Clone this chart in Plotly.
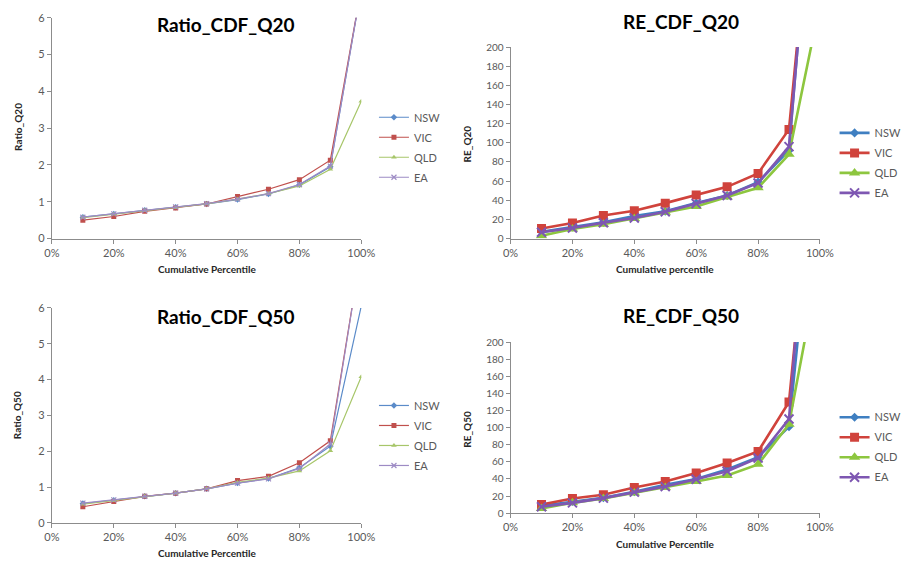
import plotly.graph_objects as go

# ---------------- data ----------------
pct = [0.1, 0.2, 0.3, 0.4, 0.5, 0.6, 0.7, 0.8, 0.9, 1.0]
states = ["NSW", "VIC", "QLD", "EA"]
x_ticks = [0, 0.2, 0.4, 0.6, 0.8, 1.0]

ratio_q20_nsw = [0.58, 0.67, 0.77, 0.85, 0.94, 1.06, 1.21, 1.46, 1.95, 6.8]
ratio_q20_vic = [0.50, 0.60, 0.74, 0.83, 0.94, 1.14, 1.34, 1.60, 2.13, 6.8]
ratio_q20_qld = [0.57, 0.66, 0.76, 0.84, 0.94, 1.07, 1.22, 1.43, 1.88, 3.73]
ratio_q20_ea = [0.58, 0.67, 0.77, 0.86, 0.95, 1.07, 1.22, 1.47, 1.97, 6.8]

re_q20_nsw = [7, 12, 17, 23.5, 28.5, 37, 45, 59, 92, 480]
re_q20_vic = [10.5, 16.3, 24, 29, 37, 45.5, 54, 68, 114, 450]
re_q20_qld = [3, 10, 15, 21, 27.5, 33.5, 43.5, 53, 88, 245]
re_q20_ea = [6.5, 11, 16.5, 21.5, 28, 36.5, 45, 58, 96, 470]

ratio_q50_nsw = [0.54, 0.63, 0.74, 0.83, 0.95, 1.11, 1.24, 1.54, 2.14, 6.05]
ratio_q50_vic = [0.45, 0.60, 0.74, 0.83, 0.95, 1.18, 1.30, 1.68, 2.29, 7.6]
ratio_q50_qld = [0.52, 0.62, 0.74, 0.83, 0.95, 1.13, 1.25, 1.45, 2.01, 4.08]
ratio_q50_ea = [0.55, 0.64, 0.74, 0.83, 0.95, 1.11, 1.23, 1.52, 2.20, 7.6]

re_q50_nsw = [8.5, 13.5, 18, 25, 33, 40, 51, 65.5, 101, 460]
re_q50_vic = [10, 17, 21.5, 30, 37, 47, 58.5, 72, 130, 500]
re_q50_qld = [5.5, 12, 17, 23.5, 30, 37, 44, 57, 104, 296]
re_q50_ea = [7.5, 12, 17.5, 24.5, 31, 39.5, 49, 64.5, 110, 560]

# ---------------- styling ----------------
FONT = "Lato"
TICK_COL = "#595959"
AXIS_COL = "#8C8C8C"

ratio_colors = {"NSW": "#5B8BC9", "VIC": "#C0504D", "QLD": "#A7C66A", "EA": "#9D8BC4"}
re_colors = {"NSW": "#3F7FC1", "VIC": "#D0433C", "QLD": "#8DC63F", "EA": "#7E57B2"}
symbols = {"NSW": "diamond", "VIC": "square", "QLD": "triangle-up", "EA": "x-thin"}

charts = [
    dict(name="Ratio_CDF_Q20", ytitle="Ratio_Q20", xtitle="Cumulative Percentile",
         series=[ratio_q20_nsw, ratio_q20_vic, ratio_q20_qld, ratio_q20_ea],
         kind="ratio", xd=[45 / 912, 362 / 912], yd=[1 - 237 / 566, 1 - 11 / 566],
         title_xy=(223, 18), ytitle_xy=(10, 123), xtitle_y=268, legend_xy=(375, 98)),
    dict(name="RE_CDF_Q20", ytitle="RE_Q20", xtitle="Cumulative percentile",
         series=[re_q20_nsw, re_q20_vic, re_q20_qld, re_q20_ea],
         kind="re", xd=[515 / 912, 832 / 912], yd=[1 - 237 / 566, 1 - 41 / 566],
         title_xy=(690, 15), ytitle_xy=(470, 140), xtitle_y=268, legend_xy=(847, 114)),
    dict(name="Ratio_CDF_Q50", ytitle="Ratio_Q50", xtitle="Cumulative Percentile",
         series=[ratio_q50_nsw, ratio_q50_vic, ratio_q50_qld, ratio_q50_ea],
         kind="ratio", xd=[45 / 912, 362 / 912], yd=[1 - 528 / 566, 1 - 308 / 566],
         title_xy=(223, 317), ytitle_xy=(10, 418), xtitle_y=559, legend_xy=(375, 393)),
    dict(name="RE_CDF_Q50", ytitle="RE_Q50", xtitle="Cumulative Percentile",
         series=[re_q50_nsw, re_q50_vic, re_q50_qld, re_q50_ea],
         kind="re", xd=[515 / 912, 832 / 912], yd=[1 - 518 / 566, 1 - 343 / 566],
         title_xy=(690, 316), ytitle_xy=(470, 432), xtitle_y=550, legend_xy=(847, 405)),
]

W, H = 912, 566
fig = go.Figure()
layout = dict(
    width=W, height=H, margin=dict(l=0, r=0, t=0, b=0),
    paper_bgcolor="white", plot_bgcolor="white",
    font=dict(family=FONT, color=TICK_COL), annotations=[],
)

for i, ch in enumerate(charts):
    n = i + 1
    xa = "x" if n == 1 else f"x{n}"
    ya = "y" if n == 1 else f"y{n}"
    lg = "legend" if n == 1 else f"legend{n}"
    is_ratio = ch["kind"] == "ratio"
    for s, vals in zip(states, ch["series"]):
        col = (ratio_colors if is_ratio else re_colors)[s]
        sym = symbols[s]
        if is_ratio:
            msize = 5
            lw = 1.2
        else:
            msize = {"NSW": 7, "VIC": 9, "QLD": 10, "EA": 9}[s]
            lw = 2.6
        marker = dict(symbol=sym, size=msize, color=col)
        if sym == "x-thin":
            marker["line"] = dict(color=col, width=1.2 if is_ratio else 2)
        fig.add_trace(go.Scatter(
            x=pct, y=vals, name=s, mode="lines+markers",
            line=dict(color=col, width=lw), marker=marker,
            xaxis=xa, yaxis=ya, legend=lg, legendgroup=f"{s}{n}",
            cliponaxis=True,
        ))
    axis_common = dict(showgrid=False, zeroline=False, showline=True,
                       linecolor=AXIS_COL, linewidth=1, ticks="outside",
                       tickcolor=AXIS_COL, ticklen=4)
    layout[f"xaxis{'' if n == 1 else n}"] = dict(
        domain=ch["xd"], anchor=ya, range=[0, 1], tickvals=x_ticks,
        tickformat=".0%", tickfont=dict(size=11, color=TICK_COL), **axis_common)
    if is_ratio:
        yextra = dict(range=[0, 6], dtick=1, tick0=0, tickfont=dict(size=11, color=TICK_COL))
    else:
        yextra = dict(range=[0, 200], dtick=20, tick0=0, tickfont=dict(size=10, color=TICK_COL))
    layout[f"yaxis{'' if n == 1 else n}"] = dict(domain=ch["yd"], anchor=xa, **yextra, **axis_common)

    lx, ly = ch["legend_xy"]
    layout[lg] = dict(x=lx / W, y=1 - ly / H, xanchor="left", yanchor="top",
                      bgcolor="rgba(0,0,0,0)", borderwidth=0,
                      font=dict(family=FONT, size=11, color=TICK_COL),
                      traceorder="grouped", tracegroupgap=1)

    tx, ty = ch["title_xy"]
    layout["annotations"].append(dict(
        text=f"<b>{ch['name']}</b>", x=tx / W, y=1 - ty / H, xref="paper", yref="paper",
        showarrow=False, xanchor="center", yanchor="middle",
        font=dict(family=FONT, size=19, color="#000000")))
    yx, yy = ch["ytitle_xy"]
    layout["annotations"].append(dict(
        text=f"<b>{ch['ytitle']}</b>", x=yx / W, y=1 - yy / H, xref="paper", yref="paper",
        showarrow=False, xanchor="center", yanchor="middle", textangle=-90,
        font=dict(family=FONT, size=10, color="#262626")))
    xc = (ch["xd"][0] + ch["xd"][1]) / 2
    layout["annotations"].append(dict(
        text=f"<b>{ch['xtitle']}</b>", x=xc, y=1 - ch["xtitle_y"] / H, xref="paper", yref="paper",
        showarrow=False, xanchor="center", yanchor="middle",
        font=dict(family=FONT, size=10, color="#262626")))

fig.update_layout(**layout)
fig.write_html("out.html")
